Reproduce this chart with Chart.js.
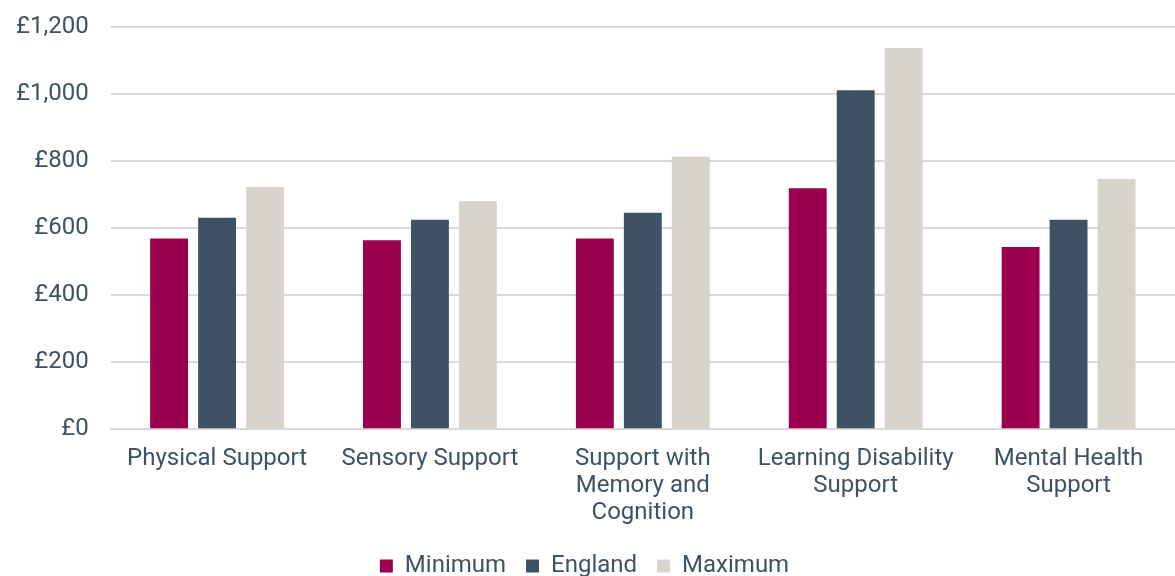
<!DOCTYPE html>
<html>
<head>
<meta charset="utf-8">
<script src="https://cdn.jsdelivr.net/npm/chart.js@4"></script>
<style>
  html, body { margin: 0; padding: 0; background: #fff; }
  #wrap { width: 1175px; height: 576px; }
</style>
</head>
<body>
<div id="wrap"><canvas id="cost-chart"></canvas></div>
<script>
// weekly cost by primary support reason
const categories = [
    "Physical Support",
    "Sensory Support",
    ["Support with", "Memory and", "Cognition"],
    ["Learning Disability", "Support"],
    ["Mental Health", "Support"]
];
const minimum = [569, 564, 569, 719, 544];
const england = [631, 625, 646, 1011, 625];
const maximum = [723, 680, 813, 1137, 747];

const text_colour = "#3f5263";

Chart.defaults.font.family = "Roboto, 'Noto Sans', sans-serif";
Chart.defaults.font.size = 24;
Chart.defaults.color = text_colour;

function make_set(label, data, colour) {
    return {
        label: label,
        data: data,
        backgroundColor: colour,
        borderWidth: 0,
        categoryPercentage: 0.676,
        barPercentage: 0.79
    };
}

new Chart(document.getElementById("cost-chart"), {
    type: "bar",
    data: {
        labels: categories,
        datasets: [
            make_set("Minimum", minimum, "#9b004e"),
            make_set("England", england, "#3f5263"),
            make_set("Maximum", maximum, "#d8d3cd")
        ]
    },
    options: {
        responsive: true,
        maintainAspectRatio: false,
        animation: false,
        layout: { padding: { top: 0, left: -6, right: 0, bottom: -12 } },
        plugins: {
            tooltip: { enabled: false },
            legend: {
                position: "bottom",
                labels: {
                    boxWidth: 13,
                    boxHeight: 13,
                    padding: 20,
                    font: { size: 24 }
                }
            }
        },
        scales: {
            x: {
                grid: { display: false },
                border: { color: "#d9d9d9", width: 2 },
                ticks: {
                    maxRotation: 0,
                    autoSkip: false,
                    padding: 8,
                    font: { size: 24, lineHeight: 1.12 }
                }
            },
            y: {
                min: 0,
                max: 1200,
                // keep the top gridline close to the canvas edge
                afterFit: (scale) => { scale.paddingTop = 27; },
                ticks: {
                    stepSize: 200,
                    padding: 22,
                    callback: v => "£" + v.toLocaleString("en-GB")
                },
                grid: { color: "#d9d9d9", lineWidth: 2, drawTicks: false },
                border: { display: false }
            }
        }
    }
});
</script>
</body>
</html>
